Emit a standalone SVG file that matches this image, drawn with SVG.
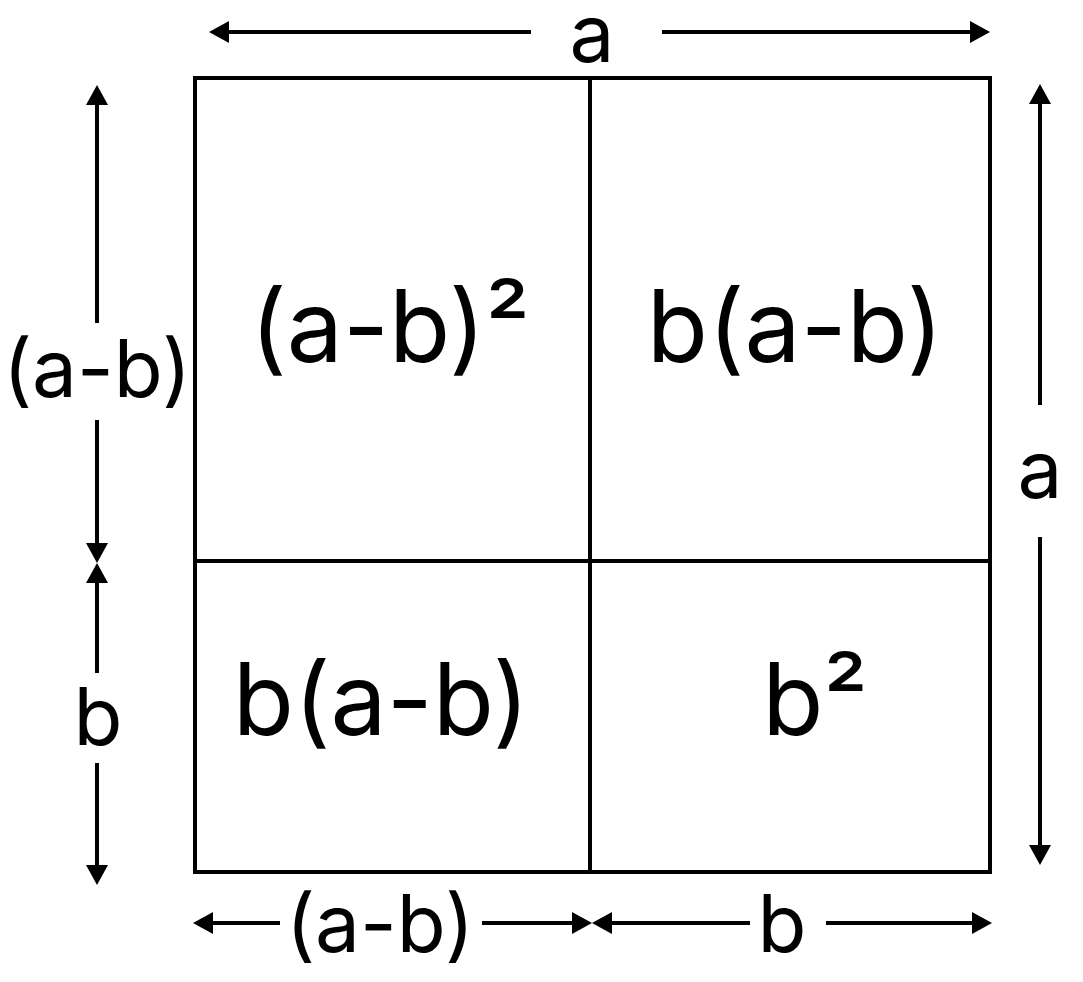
<svg xmlns="http://www.w3.org/2000/svg" width="1083" height="982" viewBox="0 0 1083 982">
<style>
.box{fill:none;stroke:#000;stroke-width:4}
.div{stroke:#000;stroke-width:4}
.dim{stroke:#000;stroke-width:4;fill:none;marker-end:url(#ah)}
.lbl{font-family:Inter,"Noto Sans",sans-serif;font-size:80px;fill:#000;text-anchor:middle}
.cell{font-family:Inter,"Noto Sans",sans-serif;font-size:100px;fill:#000;text-anchor:middle}
</style>
<defs>
<marker id="ah" markerUnits="userSpaceOnUse" markerWidth="22" markerHeight="22" refX="6" refY="11" orient="auto" viewBox="0 0 22 22">
<path d="M0,0 L20,11 L0,22 z" fill="#000"/>
</marker>
</defs>
<rect width="1083" height="982" fill="#fff"/>
<g id="square">
<rect class="box" x="195" y="78" width="795" height="794"/>
<line class="div" x1="590" y1="78" x2="590" y2="872"/>
<line class="div" x1="195" y1="561" x2="990" y2="561"/>
</g>
<g id="cell-a-b-sq"><text class="cell" x="390" y="362">(a-b)²</text></g>
<g id="cell-b-a-b-top"><text class="cell" x="795" y="362">b(a-b)</text></g>
<g id="cell-b-a-b-bottom"><text class="cell" x="381" y="735">b(a-b)</text></g>
<g id="cell-b-sq"><text class="cell" x="815" y="735">b²</text></g>
<g id="connectors">
<line class="dim" x1="531" y1="32" x2="223" y2="32"/>
<line class="dim" x1="662" y1="32" x2="976" y2="32"/>
<line class="dim" x1="1040" y1="405" x2="1040" y2="98"/>
<line class="dim" x1="1040" y1="537" x2="1040" y2="851"/>
<line class="dim" x1="97" y1="323" x2="97" y2="99"/>
<line class="dim" x1="97" y1="420" x2="97" y2="549"/>
<line class="dim" x1="97" y1="673" x2="97" y2="577"/>
<line class="dim" x1="97" y1="763" x2="97" y2="871"/>
<line class="dim" x1="280" y1="923" x2="207" y2="923"/>
<line class="dim" x1="482" y1="923" x2="578" y2="923"/>
<line class="dim" x1="750" y1="923" x2="606" y2="923"/>
<line class="dim" x1="826" y1="923" x2="978" y2="923"/>
</g>
<g id="labels">
<text class="lbl" x="592" y="62">a</text>
<text class="lbl" x="97" y="397">(a-b)</text>
<text class="lbl" x="98" y="745">b</text>
<text class="lbl" x="1040" y="498">a</text>
<text class="lbl" x="380" y="952">(a-b)</text>
<text class="lbl" x="782" y="952">b</text>
</g>
</svg>
